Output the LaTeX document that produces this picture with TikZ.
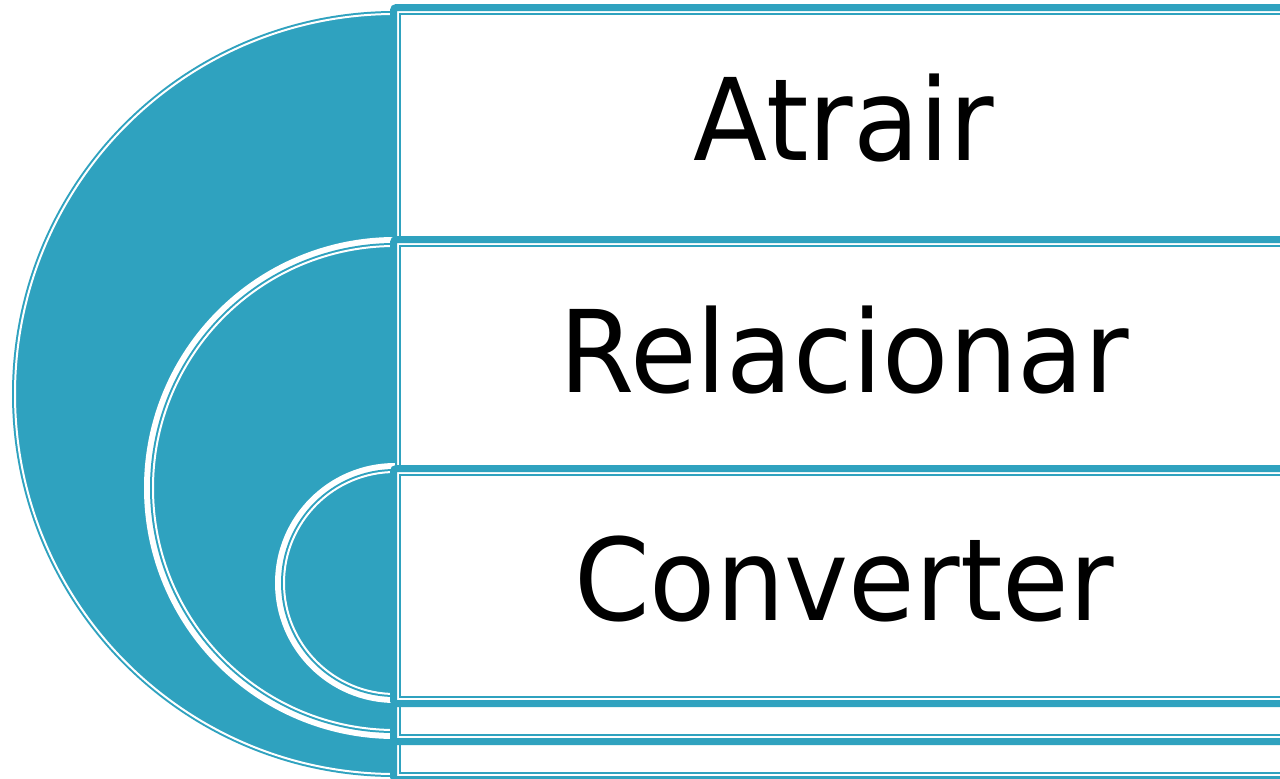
\documentclass[tikz,border=0pt]{standalone}
\usepackage{fontspec}
\setmainfont[FakeStretch=0.95]{DejaVu Sans}
\definecolor{tealA}{HTML}{2FA2BF}
\newcommand{\biglabelfont}{\fontsize{114}{130}\selectfont}
\tikzset{
  discband/.style={draw=white, line width=18pt},
  discfill/.style={fill=tealA},
  discline/.style={draw=tealA, line width=2pt, double=white, double distance=2pt},
  rectouter/.style={draw=tealA, line width=7pt, fill=white, rounded corners=3pt},
  rectinner/.style={draw=tealA, line width=2pt},
  lbl/.style={font=\biglabelfont, anchor=base, inner sep=0pt, text=black}
}
\newcommand{\halfdisc}[3]{%
  \path[discband] (#1,#2-#3) arc[start angle=270, end angle=90, radius=#3];
  \path[discfill] (#1,#2-#3) arc[start angle=270, end angle=90, radius=#3] -- cycle;
  \path[discline] (#1,#2-#3) arc[start angle=270, end angle=90, radius=#3];
}
\begin{document}
\begin{tikzpicture}[x=1pt, y=-1pt]
  \useasboundingbox (0,0) rectangle (1280,779);
  \fill[white] (0,0) rectangle (1280,779);
  % level 1
  \halfdisc{395}{394}{380}
  \path[rectouter] (393.5,7.5) rectangle (1294.5,779.5);
  \path[rectinner] (400,14) rectangle (1288,773);
  % level 2
  \halfdisc{395}{488}{242}
  \path[rectouter] (393.5,239.5) rectangle (1294.5,741.5);
  \path[rectinner] (400,246) rectangle (1288,735);
  % level 3
  \halfdisc{395}{583}{111}
  \path[rectouter] (393.5,468.5) rectangle (1294.5,703.5);
  \path[rectinner] (400,475) rectangle (1288,697);
  % labels
  \node[lbl] (atrair) at (844,160) {Atrair};
  \node[lbl] (relacionar) at (844,392) {Relacionar};
  \node[lbl] (converter) at (844,620) {Converter};
\end{tikzpicture}
\end{document}
